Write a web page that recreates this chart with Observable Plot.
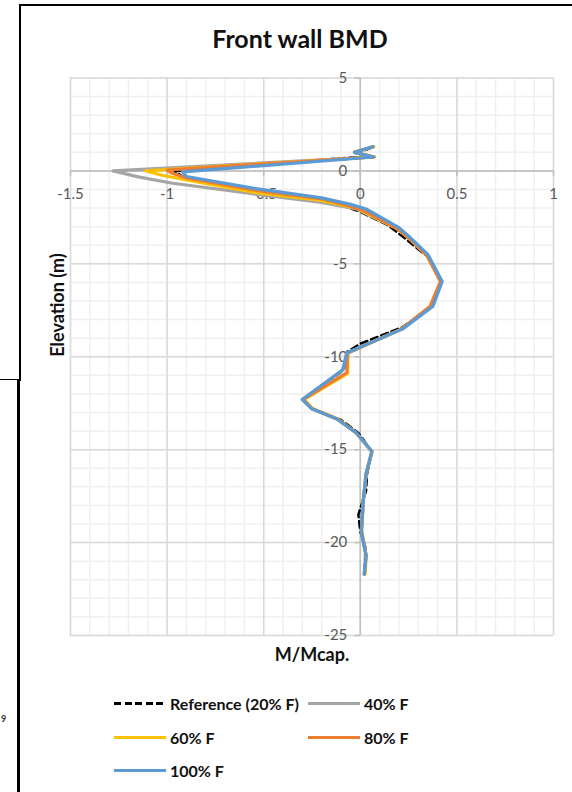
<!DOCTYPE html>
<html>
<head>
<meta charset="utf-8">
<script src="https://cdn.jsdelivr.net/npm/d3@7"></script>
<script src="https://cdn.jsdelivr.net/npm/@observablehq/plot@0.6"></script>
<style>
  html, body { margin: 0; padding: 0; background: #fff; }
  #page { position: relative; width: 572px; height: 792px; overflow: hidden; font-family: Lato, "Open Sans", sans-serif; }
  .frame { position: absolute; background: #000; }
  #title { position: absolute; left: 0; top: 22px; width: 600px; text-align: center; font-size: 25px; font-weight: bold; line-height: 32px; color: #111; }
  #chart { position: absolute; left: 0; top: 60px; }
  #legend { position: absolute; left: 0; top: 690px; width: 572px; font-size: 16px; font-weight: bold; color: #111; }
  .item { position: absolute; height: 22px; display: flex; align-items: center; }
  .sw { width: 52px; height: 3px; margin-right: 4px; }
  #stray { position: absolute; left: 1px; top: 713px; font-size: 9px; font-weight: bold; color: #333; }
</style>
</head>
<body>
<div id="page">
  <div class="frame" style="left:19px; top:4px; width:553px; height:2px;"></div>
  <div class="frame" style="left:19px; top:4px; width:2px; height:377px;"></div>
  <div class="frame" style="left:0px; top:379px; width:20px; height:1px;"></div>
  <div class="frame" style="left:17px; top:379px; width:3px; height:413px;"></div>
  <div id="stray">9</div>
  <div id="title">Front wall BMD</div>
  <div id="chart"></div>
  <div id="legend"></div>
</div>
<script>
// ---- data ----
const xTicks = [-1.5, -1, -0.5, 0, 0.5, 1];
const yTicks = [5, 0, -5, -10, -15, -20, -25];

const seriesNames = ["Reference (20% F)", "40% F", "60% F", "80% F", "100% F"];
const seriesColors = ["#000000", "#A5A5A5", "#FFC000", "#ED7D31", "#5B9BD5"];

// Reference (20% F)
const elevRef = [1.25, 0.95, 0.8, -0.02, -0.3, -0.98, -1.45, -1.9, -2.2, -2.9, -3.7, -4.3, -4.65, -5.95, -7.3, -8.4, -9.3, -9.75, -10.7, -12.3, -12.8, -13.4, -14.1, -15.1, -16.3, -17.2, -18.5, -19.4, -20.2, -20.8, -21.7];
const mRef    = [0.06, -0.02, 0.05, -0.96, -0.92, -0.55, -0.24, -0.08, 0.0, 0.14, 0.24, 0.31, 0.355, 0.418, 0.37, 0.22, 0.0, -0.07, -0.085, -0.3, -0.25, -0.1, -0.01, 0.06, 0.035, 0.03, -0.01, 0.0, 0.025, 0.025, 0.02];

// 40% F
const elev40 = [1.3, 1.0, 0.75, 0.0, -0.32, -0.65, -1.3, -1.68, -2.05, -2.25, -3.1, -3.65, -4.55, -5.95, -7.3, -8.5, -9.8, -10.7, -12.3, -12.8, -13.35, -14.1, -15.1, -16.3, -17.8, -19.4, -20.7, -21.7];
const m40    = [0.065, -0.03, 0.07, -1.28, -1.15, -0.98, -0.5, -0.21, -0.02, 0.02, 0.19, 0.255, 0.345, 0.418, 0.365, 0.215, -0.07, -0.09, -0.3, -0.25, -0.12, -0.02, 0.06, 0.03, 0.015, 0.005, 0.03, 0.02];

// 60% F
const elev60 = [1.3, 1.0, 0.75, 0.0, -0.22, -0.49, -1.2, -1.57, -2.0, -2.2, -3.1, -3.65, -4.55, -5.95, -7.3, -8.5, -9.8, -10.9, -12.3, -12.8, -13.35, -14.1, -15.1, -16.3, -17.8, -19.4, -20.7, -21.7];
const m60    = [0.07, -0.03, 0.075, -1.11, -1.03, -0.9, -0.52, -0.21, -0.02, 0.02, 0.19, 0.255, 0.345, 0.418, 0.365, 0.215, -0.065, -0.065, -0.29, -0.245, -0.115, -0.02, 0.06, 0.03, 0.015, 0.008, 0.03, 0.025];

// 80% F
const elev80 = [1.3, 1.0, 0.75, 0.05, -0.1, -0.38, -1.08, -1.5, -1.85, -2.15, -3.1, -3.65, -4.55, -5.95, -7.3, -8.5, -9.8, -10.85, -12.3, -12.8, -13.35, -14.1, -15.1, -16.3, -17.8, -19.4, -20.7, -21.7];
const m80    = [0.065, -0.03, 0.07, -1.0, -0.98, -0.9, -0.52, -0.2, -0.07, 0.02, 0.19, 0.255, 0.345, 0.415, 0.36, 0.215, -0.065, -0.07, -0.295, -0.25, -0.12, -0.02, 0.06, 0.03, 0.015, 0.006, 0.03, 0.022];

// 100% F
const elev100 = [1.3, 1.0, 0.75, -0.05, -0.3, -0.97, -1.45, -1.8, -2.05, -3.05, -3.6, -4.5, -5.95, -7.3, -8.5, -9.8, -10.7, -12.3, -12.8, -13.35, -14.1, -15.1, -16.3, -17.8, -19.4, -20.7, -21.7];
const m100    = [0.065, -0.03, 0.07, -0.92, -0.9, -0.53, -0.2, -0.05, 0.03, 0.2, 0.26, 0.35, 0.424, 0.375, 0.22, -0.07, -0.09, -0.3, -0.25, -0.12, -0.02, 0.06, 0.03, 0.015, 0.005, 0.03, 0.02];

// ---- build table ----
const elevs = [elevRef, elev40, elev60, elev80, elev100];
const ms = [mRef, m40, m60, m80, m100];
const rows = [];
seriesNames.forEach((name, i) => {
  elevs[i].forEach((e, j) => rows.push({series: name, elev: e, m: ms[i][j]}));
});

const xMinor = d3.ticks(-1.5, 1, 25);
const yMinor = d3.ticks(-25, 5, 30);

const gray = "#595959";
const chart = Plot.plot({
  width: 572,
  height: 630,
  marginTop: 17.5,
  marginLeft: 70,
  marginRight: 19,
  marginBottom: 55,
  x: {domain: [-1.5, 1], axis: null},
  y: {domain: [-25, 5], axis: null},
  style: {fontFamily: "Lato, 'Open Sans', sans-serif", background: "transparent", overflow: "visible"},
  marks: [
    Plot.ruleX(xMinor, {stroke: "#efefef", strokeWidth: 1.5}),
    Plot.ruleY(yMinor, {stroke: "#efefef", strokeWidth: 1.5}),
    Plot.ruleX(xTicks, {stroke: "#d9d9d9", strokeWidth: 1.5}),
    Plot.ruleY(yTicks, {stroke: "#d9d9d9", strokeWidth: 1.5}),
    Plot.ruleX([0], {stroke: "#bfbfbf", strokeWidth: 1.5}),
    Plot.ruleY([0], {stroke: "#bfbfbf", strokeWidth: 1.5}),
    Plot.ruleY(yTicks, {x1: -0.028, x2: 0, stroke: "#bfbfbf", strokeWidth: 1.5}),
    Plot.ruleX(xTicks, {y1: 0, y2: -0.3, stroke: "#bfbfbf", strokeWidth: 1.5}),
    Plot.text(yTicks, {x: 0, y: d => d, text: d => String(d), textAnchor: "end", dx: -13, fill: gray, fontSize: 15}),
    Plot.text(xTicks, {x: d => d, y: 0, dy: 23, text: d => String(d), fill: gray, fontSize: 15}),
    Plot.line(rows.filter(d => d.series === seriesNames[0]), {x: "m", y: "elev", stroke: seriesColors[0], strokeWidth: 2.5, strokeDasharray: "7,4", sort: null}),
    ...seriesNames.slice(1).map((name, k) =>
      Plot.line(rows.filter(d => d.series === name), {x: "m", y: "elev", stroke: seriesColors[k + 1], strokeWidth: 3.2, strokeLinejoin: "round", strokeLinecap: "round"})
    ),
    Plot.text(["M/Mcap."], {frameAnchor: "bottom", dy: 20, lineAnchor: "middle", fontWeight: "bold", fontSize: 18, fill: "#111"}),
    Plot.text(["Elevation (m)"], {frameAnchor: "left", dx: -12, rotate: -90, lineAnchor: "middle", fontWeight: "bold", fontSize: 18, fill: "#111"})
  ]
});
document.getElementById("chart").appendChild(chart);

// ---- legend ----
const legendPos = [
  {left: 114, top: 2}, {left: 308, top: 2},
  {left: 114, top: 36}, {left: 308, top: 36},
  {left: 114, top: 69}
];
const legend = document.getElementById("legend");
seriesNames.forEach((name, i) => {
  const item = document.createElement("div");
  item.className = "item";
  item.style.left = legendPos[i].left + "px";
  item.style.top = legendPos[i].top + "px";
  const sw = document.createElement("div");
  sw.className = "sw";
  sw.style.background = i === 0
    ? "repeating-linear-gradient(90deg, #000 0 7px, transparent 7px 10.5px)"
    : seriesColors[i];
  item.appendChild(sw);
  const t = document.createElement("span");
  t.textContent = name;
  item.appendChild(t);
  legend.appendChild(item);
});
</script>
</body>
</html>
